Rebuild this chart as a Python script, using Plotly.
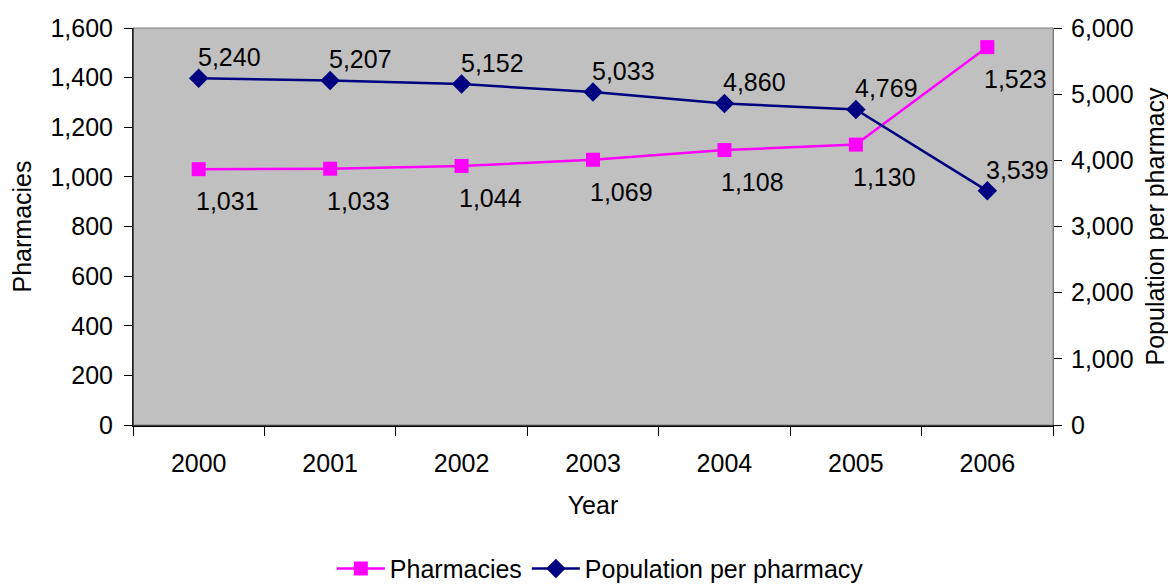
import plotly.graph_objects as go

years = ["2000", "2001", "2002", "2003", "2004", "2005", "2006"]
pharmacies = [1031, 1033, 1044, 1069, 1108, 1130, 1523]
population_per_pharmacy = [5240, 5207, 5152, 5033, 4860, 4769, 3539]

FONT = "Liberation Sans, Arial, sans-serif"
fs = 25

fig = go.Figure()
fig.add_trace(go.Scatter(
    x=years, y=pharmacies, name="Pharmacies", mode="lines+markers",
    line=dict(color="#FF00FF", width=2.5),
    marker=dict(symbol="square", size=14, color="#FF00FF"),
    yaxis="y", cliponaxis=False,
))
fig.add_trace(go.Scatter(
    x=years, y=population_per_pharmacy, name="Population per pharmacy",
    mode="lines+markers",
    line=dict(color="#000080", width=2.5),
    marker=dict(symbol="diamond", size=15, color="#000080"),
    yaxis="y2", cliponaxis=False,
))

# data labels (category axis: annotations use category index)
for i, v in enumerate(pharmacies):
    fig.add_annotation(x=i, y=v, xref="x", yref="y", text=f"{v:,}", showarrow=False,
                       xanchor="left", yanchor="top", xshift=-5, yshift=-16,
                       font=dict(family=FONT, size=fs, color="black"))
for i, v in enumerate(population_per_pharmacy):
    fig.add_annotation(x=i, y=v, xref="x", yref="y2", text=f"{v:,}", showarrow=False,
                       xanchor="left", yanchor="bottom", xshift=-3, yshift=5,
                       font=dict(family=FONT, size=fs, color="black"))

fig.update_layout(
    width=1168, height=577,
    margin=dict(l=125, r=123, t=20, b=160, autoexpand=False),
    paper_bgcolor="white", plot_bgcolor="#C0C0C0",
    font=dict(family=FONT, size=fs, color="black"),
    showlegend=True,
    legend=dict(orientation="h", x=0.508, xanchor="center", y=-0.362, yanchor="middle",
                font=dict(size=fs), bgcolor="rgba(0,0,0,0)", itemwidth=48),
    xaxis=dict(type="category", range=[-0.5, 6.5], tickson="boundaries",
               ticks="outside", ticklen=9, tickcolor="black",
               showline=True, linecolor="black", linewidth=2, mirror=False,
               showgrid=False, ticklabelstandoff=15,
               title=dict(text="Year", standoff=20, font=dict(size=fs))),
    yaxis=dict(range=[0, 1600], dtick=200, tickformat=",d",
               ticks="outside", ticklen=8, tickcolor="black",
               showline=True, linecolor="black", linewidth=1,
               showgrid=False, zeroline=False, ticklabelstandoff=6,
               title=dict(text="Pharmacies", standoff=12, font=dict(size=fs))),
    yaxis2=dict(range=[0, 6000], dtick=1000, tickformat=",d", overlaying="y", side="right",
                ticks="outside", ticklen=8, tickcolor="black",
                showline=True, linecolor="#808080", linewidth=1,
                showgrid=False, zeroline=False, ticklabelstandoff=4,
                title=dict(text="Population per pharmacy", standoff=13, font=dict(size=fs))),
)
fig.add_shape(type="rect", xref="paper", yref="paper", x0=0, x1=1, y0=0, y1=1,
              line=dict(color="#808080", width=1), layer="above")
fig.add_shape(type="line", xref="paper", yref="paper", x0=0, x1=0, y0=0, y1=1,
              line=dict(color="black", width=1), layer="above")

fig.write_html("out.html")
